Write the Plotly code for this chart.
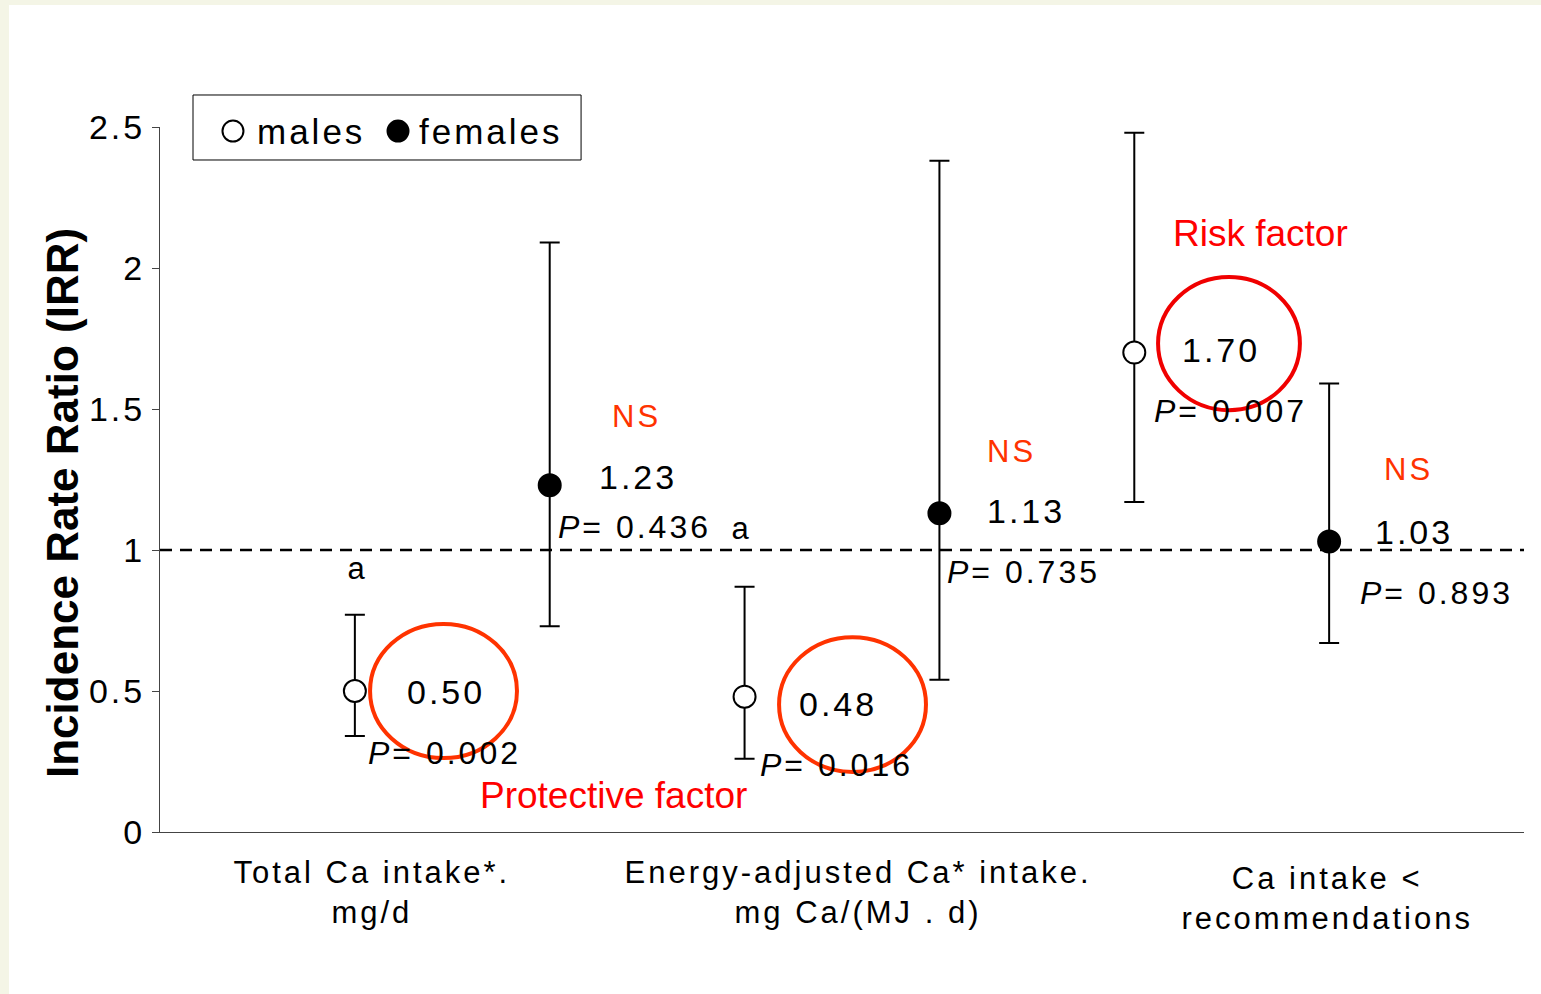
import plotly.graph_objects as go

# ---- data ----
categories = ["Total Ca intake*.<br>mg/d",
              "Energy-adjusted Ca* intake.<br>mg Ca/(MJ . d)",
              "Ca intake &lt;<br>recommendations"]
male_x = [1, 3, 5]
female_x = [2, 4, 6]
male_irr = [0.50, 0.48, 1.70]
male_lo = [0.34, 0.26, 1.17]
male_hi = [0.77, 0.87, 2.48]
female_irr = [1.23, 1.13, 1.03]
female_lo = [0.73, 0.54, 0.67]
female_hi = [2.09, 2.38, 1.59]
male_p = ["0.002", "0.016", "0.007"]
female_p = ["0.436", "0.735", "0.893"]
male_letters = ["a", "a", "b"]
y_ticks = [0, 0.5, 1, 1.5, 2, 2.5]
y_ticktext = ["0", "0.5", "1", "1.5", "2", "2.5"]
cat_x = [1.09, 3.58, 5.99]

FONT = "Liberation Sans, Arial, sans-serif"
BLACK = "#000000"
ORANGE = "#ff3300"
RED = "#ff0000"

fig = go.Figure()
fig.add_trace(go.Scatter(
    x=male_x, y=male_irr, mode="markers", name="males", showlegend=False,
    marker=dict(symbol="circle", size=22, color="white", line=dict(color=BLACK, width=2)),
    error_y=dict(type="data", symmetric=False,
                 array=[h - v for h, v in zip(male_hi, male_irr)],
                 arrayminus=[v - l for v, l in zip(male_irr, male_lo)],
                 color=BLACK, thickness=2, width=10)))
fig.add_trace(go.Scatter(
    x=female_x, y=female_irr, mode="markers", name="females", showlegend=False,
    marker=dict(symbol="circle", size=22, color=BLACK, line=dict(color=BLACK, width=2)),
    error_y=dict(type="data", symmetric=False,
                 array=[h - v for h, v in zip(female_hi, female_irr)],
                 arrayminus=[v - l for v, l in zip(female_irr, female_lo)],
                 color=BLACK, thickness=2, width=10)))

shapes = []
# page background: cream frame + white panel
shapes.append(dict(type="rect", xref="paper", yref="paper", x0=-0.1107, x1=1.02,
                   y0=-0.26, y1=1.173, fillcolor="white", line=dict(width=0), layer="below"))
# reference line at IRR = 1
shapes.append(dict(type="line", xref="paper", yref="y", x0=0, x1=1, y0=1, y1=1,
                   line=dict(color=BLACK, width=2.5, dash="12px,8px"), layer="below"))
# highlight ellipses
ell = [((1.078, 1.832), (0.262, 0.738), ORANGE),
       ((3.177, 3.931), (0.213, 0.691), ORANGE),
       ((5.122, 5.850), (1.496, 1.968), "#f00000")]
for (x0, x1), (y0, y1), c in ell:
    shapes.append(dict(type="circle", xref="x", yref="y", x0=x0, x1=x1, y0=y0, y1=y1,
                       line=dict(color=c, width=4)))
# legend box & symbols
shapes.append(dict(type="rect", xref="paper", yref="paper", x0=0.0242, x1=0.3087,
                   y0=0.9532, y1=1.0454, line=dict(color=BLACK, width=1), fillcolor="white"))
for xc, fc in [(0.0535, "white"), (0.1745, BLACK)]:
    shapes.append(dict(type="circle", xref="paper", yref="paper", xsizemode="pixel",
                       ysizemode="pixel", xanchor=xc, yanchor=0.9943,
                       x0=-10.5, x1=10.5, y0=-10.5, y1=10.5,
                       line=dict(color=BLACK, width=2), fillcolor=fc))

ann = []
def txt(x, y, s, size, color=BLACK, xanchor="center", xref="x", yref="y", **kw):
    ann.append(dict(x=x, y=y, text=s, xref=xref, yref=yref, showarrow=False,
                    xanchor=xanchor, yanchor="middle",
                    align="left" if xanchor == "left" else "center",
                    font=dict(family=FONT, size=size, color=color), **kw))

# value labels
val_dx_m = [0.468, 0.479, 0.445]
val_dy_m = [-0.004, -0.026, 0.009]
val_dx_f = [0.453, 0.444, 0.435]
val_dy_f = [0.029, 0.008, 0.034]
for i in range(3):
    txt(male_x[i] + val_dx_m[i], male_irr[i] + val_dy_m[i], f"{male_irr[i]:.2f}", 34)
    txt(female_x[i] + val_dx_f[i], female_irr[i] + val_dy_f[i], f"{female_irr[i]:.2f}", 34)
# P values
p_pos_m = [(1.055, 0.280), (3.067, 0.238), (5.089, 1.493)]
p_pos_f = [(2.030, 1.082), (4.027, 0.922), (6.146, 0.848)]
for i in range(3):
    txt(p_pos_m[i][0], p_pos_m[i][1], f"<i>P</i>= {male_p[i]}", 32, xanchor="left")
    txt(p_pos_f[i][0], p_pos_f[i][1], f"<i>P</i>= {female_p[i]}", 32, xanchor="left")
# NS
for x, y in [(2.443, 1.472), (4.372, 1.348), (6.405, 1.287)]:
    txt(x, y, "NS", 31, color=ORANGE)
# letters
for x, y, s in [(1.016, 0.933, male_letters[0]), (2.987, 1.078, male_letters[1]),
                (4.978, 2.684, male_letters[2])]:
    txt(x, y, s, 31)
txt(2.325, 0.128, "Protective factor", 37, color=RED)
txt(5.650, 2.121, "Risk factor", 37, color=RED)
# x category labels
for cx, lab, yy in zip(cat_x, categories, [-0.0865, -0.0865, -0.0943]):
    txt(cx, yy, lab, 31, yref="paper")
# y title
ann.append(dict(x=-0.0711, y=0.4667, xref="paper", yref="paper", showarrow=False,
                text="<b>Incidence Rate Ratio (IRR)</b>", textangle=-90,
                xanchor="center", yanchor="middle",
                font=dict(family=FONT, size=44, color=BLACK)))
# legend text
txt(0.0695, 0.9943, "males", 35, xanchor="left", xref="paper", yref="paper")
txt(0.1885, 0.9943, "females", 35, xanchor="left", xref="paper", yref="paper")

fig.update_layout(
    width=1541, height=994,
    margin=dict(l=160, r=17, t=127, b=162),
    paper_bgcolor="#f4f5e6", plot_bgcolor="white",
    showlegend=False,
    shapes=shapes, annotations=ann,
    font=dict(family=FONT, color=BLACK),
    xaxis=dict(range=[0, 7], showgrid=False, zeroline=False, showline=True,
               linecolor="#444444", linewidth=1, ticks="", showticklabels=False),
    yaxis=dict(range=[0, 2.5], showgrid=False, zeroline=False, showline=True,
               linecolor="#444444", linewidth=1, ticks="outside", ticklen=7,
               tickcolor="#444444", tickvals=y_ticks, ticktext=y_ticktext,
               tickfont=dict(family=FONT, size=34, color=BLACK)),
)

page_css = (
    "var st=document.createElement('style');"
    "st.textContent='body{margin:0;overflow:hidden}"
    ".main-svg text{letter-spacing:3px}"
    ".main-svg text[data-unformatted*=\"factor\"],"
    ".main-svg text[data-unformatted*=\"IRR\"]{letter-spacing:0}';"
    "document.head.appendChild(st);"
)
fig.write_html("out.html", post_script=page_css, config={"displayModeBar": False})
